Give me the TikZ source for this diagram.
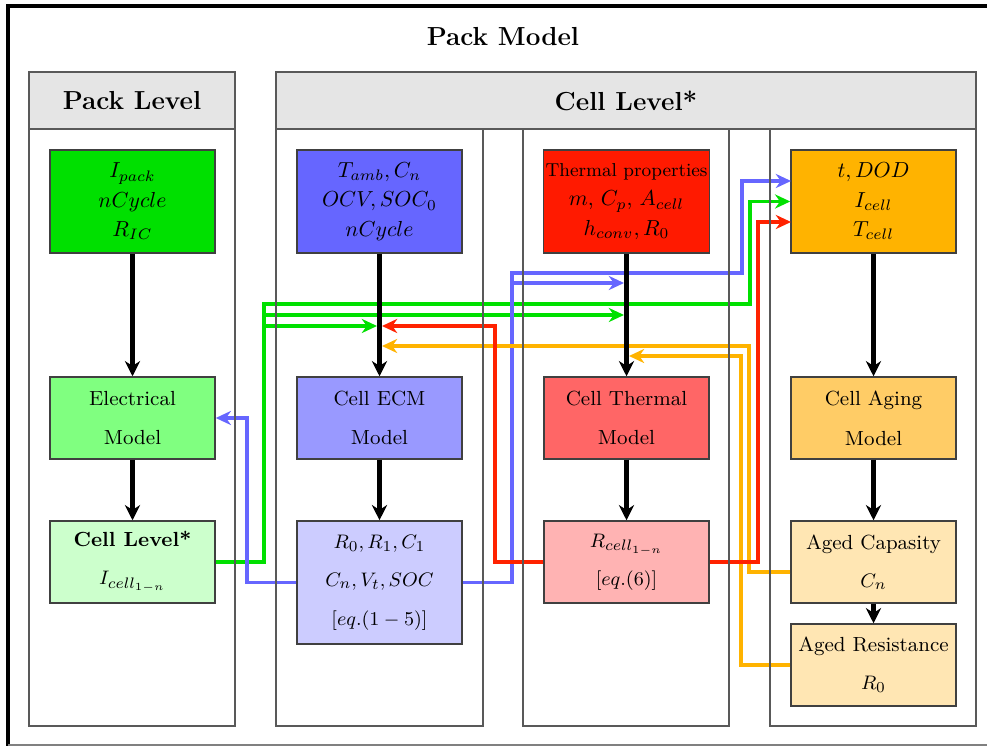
\documentclass[tikz,border=0pt]{standalone}
\usepackage{amsmath}
\usepackage{xcolor}
\usepackage{tikz}
\usetikzlibrary{arrows.meta, positioning, calc}
\definecolor{packtop}{RGB}{0, 224, 0}
\definecolor{packmid}{RGB}{128, 255, 128}
\definecolor{packlow}{RGB}{204, 255, 204}
\definecolor{ecmtop}{RGB}{102, 102, 255}
\definecolor{ecmmid}{RGB}{153, 153, 255}
\definecolor{ecmlow}{RGB}{204, 204, 255}
\definecolor{thtop}{RGB}{255, 26, 0}
\definecolor{thmid}{RGB}{255, 102, 102}
\definecolor{thlow}{RGB}{255, 179, 179}
\definecolor{agetop}{RGB}{255, 179, 0}
\definecolor{agemid}{RGB}{255, 204, 102}
\definecolor{agelow}{RGB}{255, 230, 179}
\definecolor{linkgreen}{RGB}{0, 224, 0}
\definecolor{linkblue}{RGB}{102, 102, 255}
\definecolor{linkred}{RGB}{255, 34, 0}
\definecolor{linkorange}{RGB}{255, 179, 0}

\tikzset{
    modbox/.style={draw=black!75, line width=0.7pt, minimum width=75.9pt,
                   align=center, inner sep=1pt,
                   font=\fontsize{9.4}{11}\selectfont},
    inbox/.style={modbox, minimum height=47.4pt, font=\fontsize{9.8}{11.5}\selectfont},
    midbox/.style={modbox, minimum height=37.7pt},
    flow/.style={-{Stealth[length=7pt,width=7pt]}, line width=1.9pt},
    wirearrow/.style={line width=1.7pt, -{Stealth[length=7pt,width=6.5pt]}},
    frame/.style={draw=black!65, line width=0.6pt},
    header/.style={frame, fill=black!10},
}

\begin{document}
\begin{tikzpicture}[x=0.46pt, y=-0.46pt]
    \useasboundingbox (0,0) rectangle (987,746);
    % outer frame
    \draw[line width=1.5pt] (8,746) -- (8,6) -- (990,6);
    \draw[black!50, line width=0.6pt] (8,745) -- (990,745);
    \node[font=\bfseries\large] (title) at (503,37) {Pack Model};

    % column headers
    \draw[header] (29,72) rectangle (235,129);
    \draw[header] (276,72) rectangle (976,129);
    \node[font=\bfseries\large] (packhead) at (132,101) {Pack Level};
    \node[font=\bfseries\large] (cellhead) at (626,101) {Cell Level*};

    % pack level
    \node[inbox, fill=packtop] (pin) at (132.5,201.5)
        {$I_{pack}$\\[2pt]$nCycle$\\[2pt]$R_{IC}$};
    \node[midbox, fill=packmid] (pelec) at (132.5,418)
        {Electrical\\[7.3pt]Model};
    \node[midbox, fill=packlow] (pcell) at (132.5,562)
        {\textbf{Cell Level*}\\[6.6pt]$I_{cell_{1-n}}$};

    % cell ECM
    \node[inbox, fill=ecmtop] (ecmin) at (379.5,201.5)
        {$T_{amb},C_n$\\[2pt]$OCV,SOC_0$\\[2pt]$nCycle$};
    \node[midbox, fill=ecmmid] (ecm) at (379.5,418)
        {Cell ECM\\[7.3pt]Model};
    \node[modbox, minimum height=56.6pt, fill=ecmlow] (ecmout) at (379.5,582.5)
        {$R_0,R_1,C_1$\\[6.6pt]$C_n,V_t,SOC$\\[6.6pt]$[eq.(1-5)]$};

    % cell thermal
    \node[inbox, fill=thtop] (thin) at (626.5,201.5)
        {{\fontsize{8.6}{10}\selectfont Thermal properties}\\[2pt]$m$, $C_p$, $A_{cell}$\\[2pt]$h_{conv},R_0$};
    \node[midbox, fill=thmid] (thm) at (626.5,418)
        {Cell Thermal\\[7.3pt]Model};
    \node[midbox, fill=thlow] (thout) at (626.5,562)
        {$R_{cell_{1-n}}$\\[6.6pt]$[eq.(6)]$};

    % cell aging
    \node[inbox, fill=agetop] (agein) at (873.5,201.5)
        {$t,DOD$\\[2pt]$I_{cell}$\\[2pt]$T_{cell}$};
    \node[midbox, fill=agemid] (agem) at (873.5,418)
        {Cell Aging\\[7.3pt]Model};
    \node[midbox, fill=agelow] (agecap) at (873.5,562)
        {Aged Capasity\\[6.6pt]$C_n$};
    \node[midbox, fill=agelow] (ageres) at (873.5,665)
        {Aged Resistance\\[6.6pt]$R_0$};

    % arrow ends on the model lines
    \coordinate (ecmG) at (377,326);
    \coordinate (ecmR) at (382,326);
    \coordinate (ecmO) at (382,346);
    \coordinate (thB) at (624,283);
    \coordinate (thG) at (624,315);
    \coordinate (thO) at (629,356);
    \coordinate (ageB) at (791,181);
    \coordinate (ageR) at (791,222);

    % exchanged signals
    \draw[wirearrow, linkgreen] (pcell.east) -| (264,304) -- (750,304) |- (agein.west);
    \draw[wirearrow, linkgreen] (pcell.east) -| (264,315) -- (thG);
    \draw[wirearrow, linkgreen] (pcell.east) -| (264,326) -- (ecmG);
    \draw[wirearrow, linkblue] (ecmout.west) -| (247,418) -- (pelec.east);
    \draw[wirearrow, linkblue] (ecmout.east) -| (512,273) -- (742,273) |- (ageB);
    \draw[wirearrow, linkblue] (ecmout.east) -| (512,283) -- (thB);
    \draw[wirearrow, linkorange] ($(agecap.west)+(0,10)$) -| (749,346) -- (ecmO);
    \draw[wirearrow, linkorange] (ageres.west) -| (741,356) -- (thO);
    \draw[wirearrow, linkred] (thout.west) -| (495,326) -- (ecmR);
    \draw[wirearrow, linkred] (thout.east) -| (758,222) -- (ageR);

    % column frames
    \foreach \xa/\xb in {29/235, 276/483, 523/729, 770/976}
        \draw[frame] (\xa,129) rectangle (\xb,726);

    % model flow
    \foreach \a/\b in {pin/pelec, pelec/pcell, ecmin/ecm, ecm/ecmout,
                       thin/thm, thm/thout, agein/agem, agem/agecap, agecap/ageres}
        \draw[flow] (\a) -- (\b);
\end{tikzpicture}
\end{document}
